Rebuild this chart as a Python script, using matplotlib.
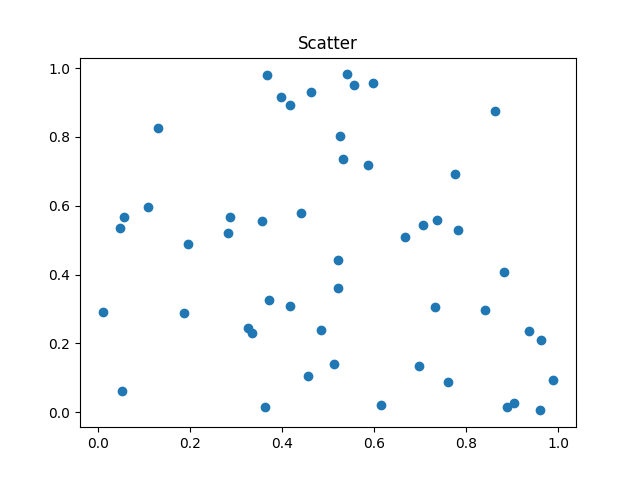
import matplotlib
matplotlib.use("Agg")
import matplotlib.pyplot as plt

# point data
x = [0.01, 0.052, 0.047, 0.057, 0.108, 0.13, 0.187, 0.195, 0.282, 0.287,
     0.327, 0.335, 0.357, 0.363, 0.368, 0.372, 0.397, 0.418, 0.418, 0.442,
     0.457, 0.463, 0.485, 0.512, 0.522, 0.522, 0.527, 0.532, 0.542, 0.557,
     0.587, 0.597, 0.615, 0.667, 0.697, 0.707, 0.732, 0.737, 0.76, 0.777,
     0.782, 0.842, 0.864, 0.882, 0.89, 0.905, 0.937, 0.96, 0.963, 0.99]
y = [0.29, 0.06, 0.535, 0.567, 0.597, 0.825, 0.287, 0.49, 0.522, 0.567,
     0.245, 0.23, 0.557, 0.015, 0.98, 0.325, 0.915, 0.892, 0.31, 0.58,
     0.105, 0.93, 0.24, 0.14, 0.362, 0.442, 0.802, 0.735, 0.982, 0.95,
     0.72, 0.957, 0.02, 0.51, 0.135, 0.545, 0.307, 0.56, 0.088, 0.692,
     0.53, 0.297, 0.875, 0.407, 0.015, 0.027, 0.235, 0.005, 0.21, 0.093]

fig, ax = plt.subplots(figsize=(6.4, 4.8), dpi=100)
ax.scatter(x, y)
ax.set_title("Scatter")
fig.savefig("out.png")
